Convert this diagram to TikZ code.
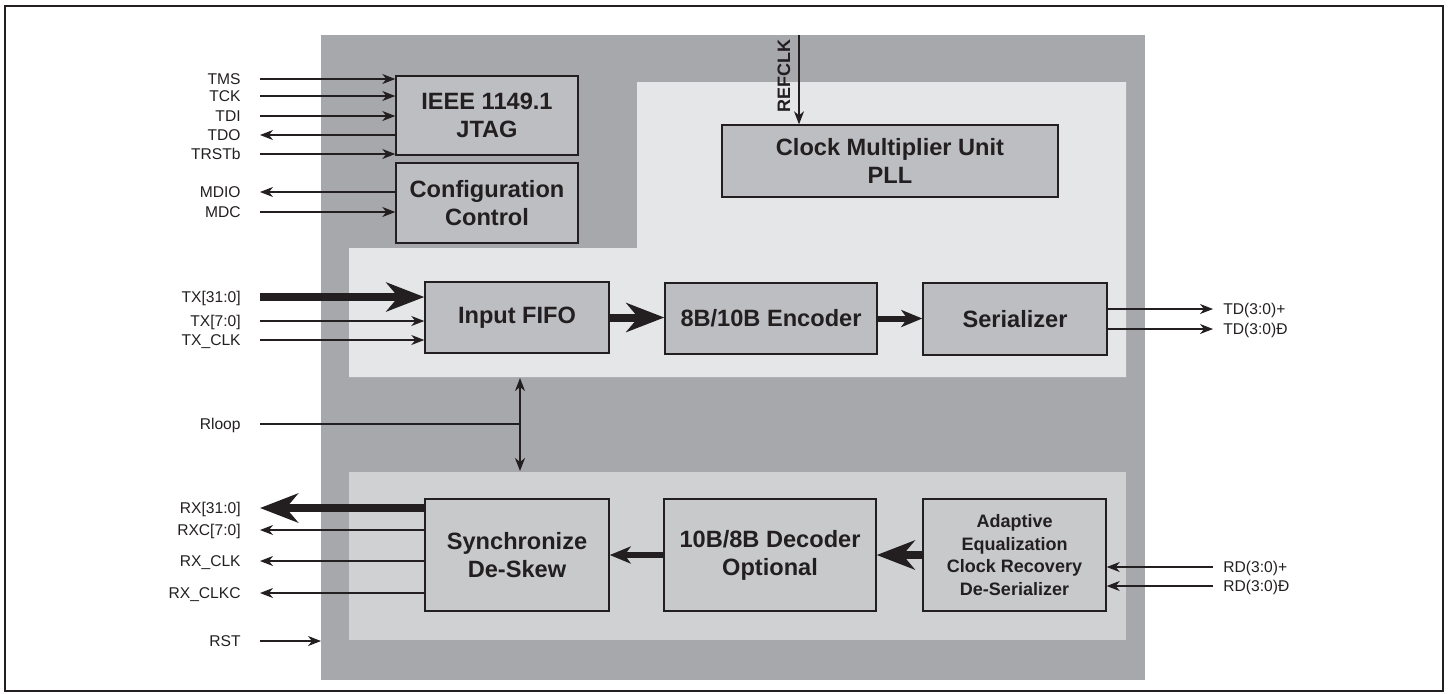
\documentclass[tikz,border=0pt]{standalone}
\usepackage{fontspec}
\setmainfont{Liberation Sans}
\usepackage{tikz}
\usetikzlibrary{calc}
\usetikzlibrary{arrows.meta}
\usetikzlibrary{positioning}
\definecolor{pewter}{RGB}{167, 168, 172}
\definecolor{cloud}{RGB}{229, 230, 232}
\definecolor{mist}{RGB}{208, 209, 211}
\definecolor{silver}{RGB}{189, 190, 193}
\definecolor{ash}{RGB}{200, 201, 203}
\definecolor{ink}{RGB}{35, 31, 32}

\begin{document}
\begin{tikzpicture}[x=0.5pt, y=-0.5pt,
        blk/.style={draw=ink, line width=0.7pt, fill=silver, text=ink, align=center, inner sep=0pt,
                    font=\bfseries\fontsize{11.8}{14}\selectfont},
        sigtxt/.style={text=ink, font=\fontsize{7.8}{9}\selectfont, text height=5.6pt, text depth=0pt, inner ysep=0pt},
        sigl/.style={sigtxt, anchor=east, inner xsep=9.5pt},
        sigr/.style={sigtxt, anchor=west, inner xsep=5pt},
        wire/.style={draw=ink, line width=0.6pt, -{Stealth[length=6.5pt,width=5pt,inset=2pt]}},
        dwire/.style={draw=ink, line width=0.6pt, {Stealth[length=6.5pt,width=5pt,inset=2pt]}-{Stealth[length=6.5pt,width=5pt,inset=2pt]}},
        bus/.style={draw=ink, line width=4pt, -{Stealth[length=19pt,width=14.5pt,inset=6pt]}},
        halfbus/.style={draw=ink, line width=3pt, -{Stealth[length=10.5pt,width=8.5pt,inset=3pt]}}]
    \useasboundingbox (0,0) rectangle (1449,693);
    % chip body and the two light areas
    \fill[pewter] (321,35) rectangle (1145,680);
    \fill[cloud]  (637,82) -- (1126,82) -- (1126,377) -- (349,377) -- (349,248) -- (637,248) -- cycle;
    \fill[mist]   (349,472) rectangle (1126,640);
    \draw[ink, line width=1pt] (5,6) rectangle (1443,691);

    % blocks
    \node[blk, minimum width=91pt,  minimum height=39.5pt] (jtag) at (487,115.5) {IEEE 1149.1\\JTAG};
    \node[blk, minimum width=91pt,  minimum height=40pt]   (cfg)  at (487,203)   {Configuration\\Control};
    \node[blk, minimum width=168pt, minimum height=36pt]   (cmu)  at (890,161)   {Clock Multiplier Unit\\PLL};
    \node[blk, minimum width=92pt,  minimum height=35.5pt] (fifo) at (517,317.5) {Input FIFO};
    \node[blk, minimum width=106pt, minimum height=35.5pt] (enc)  at (771,318.5) {8B/10B Encoder};
    \node[blk, minimum width=92pt,  minimum height=36pt]   (ser)  at (1015,319)  {Serializer};
    \node[blk, fill=ash, minimum width=92pt,  minimum height=56pt] (sync) at (517,555) {Synchronize\\De-Skew};
    \node[blk, fill=ash, minimum width=106pt, minimum height=56pt] (dec)  at (770,555) {10B/8B Decoder\\Optional};
    \node[blk, fill=ash, minimum width=91.5pt, minimum height=56pt,
          font=\bfseries\fontsize{9}{11.3}\selectfont] (cdr) at (1014.5,555)
          {Adaptive\\Equalization\\Clock Recovery\\De-Serializer};

    % test port and management
    \node[sigl] (tms)   at (260,79)  {TMS};
    \node[sigl] (tck)   at (260,96)  {TCK};
    \node[sigl] (tdi)   at (260,116) {TDI};
    \node[sigl] (tdo)   at (260,135) {TDO};
    \node[sigl] (trst)  at (260,154) {TRSTb};
    \node[sigl] (mdio)  at (260,192) {MDIO};
    \node[sigl] (mdc)   at (260,212) {MDC};
    \draw[wire] (tms.east)  -- (tms.east -| jtag.west);
    \draw[wire] (tck.east)  -- (tck.east -| jtag.west);
    \draw[wire] (tdi.east)  -- (tdi.east -| jtag.west);
    \draw[wire] (tdo.east -| jtag.west) -- (tdo.east);
    \draw[wire] (trst.east) -- (trst.east -| jtag.west);
    \draw[wire] (mdio.east -| cfg.west) -- (mdio.east);
    \draw[wire] (mdc.east)  -- (mdc.east -| cfg.west);

    % reference clock
    \coordinate (refin) at (799,35);
    \draw[wire] (refin) -- (refin |- cmu.north);
    \node[text=ink, font=\bfseries\fontsize{9}{11}\selectfont, rotate=90, inner sep=0pt] (refclk) at (784,76) {REFCLK};

    % transmit path
    \node[sigl] (txd)   at (260,297) {TX[31:0]};
    \node[sigl] (txc)   at (260,321) {TX[7:0]};
    \node[sigl] (txclk) at (260,340) {TX\_CLK};
    \draw[bus]  (txd.east)   -- (txd.east -| fifo.west);
    \draw[wire] (txc.east)   -- (txc.east -| fifo.west);
    \draw[wire] (txclk.east) -- (txclk.east -| fifo.west);
    \draw[bus]     (fifo.east) -- (fifo.east -| enc.west);
    \draw[halfbus] (enc.east)  -- (enc.east -| ser.west);
    \node[sigr] (tdp) at (1213,309) {TD(3:0)+};
    \node[sigr] (tdn) at (1213,329) {TD(3:0)Đ};
    \draw[wire] (tdp.west -| ser.east) -- (tdp.west);
    \draw[wire] (tdn.west -| ser.east) -- (tdn.west);

    % loopback
    \node[sigl] (rloop) at (260,424) {Rloop};
    \coordinate (lbup) at (520,378);
    \coordinate (lbdn) at (520,471);
    \draw[dwire] (lbup) -- (lbdn);
    \draw[ink, line width=0.6pt] (rloop.east) -- (rloop.east -| lbup);

    % receive path
    \node[sigr] (rdp) at (1213,567) {RD(3:0)+};
    \node[sigr] (rdn) at (1213,586) {RD(3:0)Đ};
    \draw[wire] (rdp.west) -- (rdp.west -| cdr.east);
    \draw[wire] (rdn.west) -- (rdn.west -| cdr.east);
    \draw[bus]     (cdr.west) -- (cdr.west -| dec.east);
    \draw[halfbus] (dec.west) -- (dec.west -| sync.east);
    \node[sigl] (rxd)    at (260,508) {RX[31:0]};
    \node[sigl] (rxc)    at (260,530) {RXC[7:0]};
    \node[sigl] (rxclk)  at (260,561) {RX\_CLK};
    \node[sigl] (rxclkc) at (260,593) {RX\_CLKC};
    \draw[bus]  (rxd.east -| sync.west)    -- (rxd.east);
    \draw[wire] (rxc.east -| sync.west)    -- (rxc.east);
    \draw[wire] (rxclk.east -| sync.west)  -- (rxclk.east);
    \draw[wire] (rxclkc.east -| sync.west) -- (rxclkc.east);

    % reset
    \node[sigl] (rst) at (260,641) {RST};
    \coordinate (chipw) at (321,641);
    \draw[wire] (rst.east) -- (chipw);
\end{tikzpicture}
\end{document}
